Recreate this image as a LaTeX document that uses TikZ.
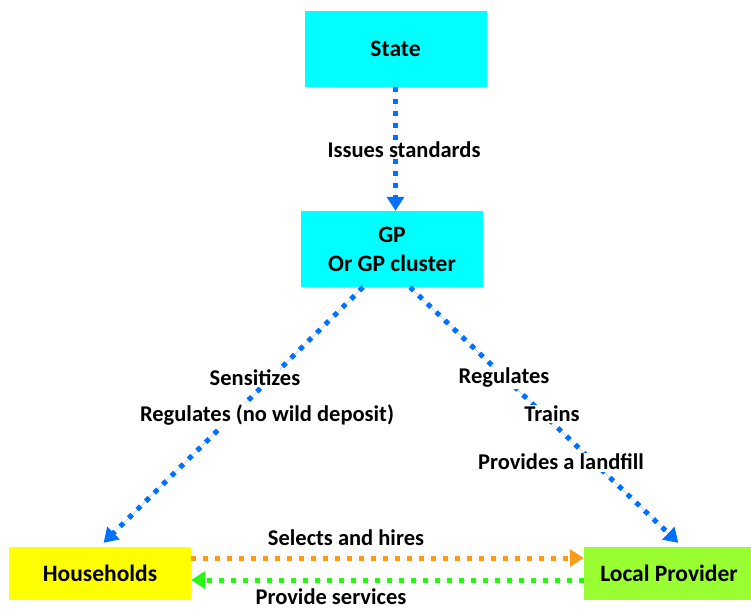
\documentclass[tikz,border=0pt]{standalone}
\usepackage{fontspec}
\setmainfont{Carlito}
\usetikzlibrary{arrows.meta, positioning}
\definecolor{boxcyan}{RGB}{0, 255, 255}
\definecolor{hhyellow}{RGB}{255, 255, 0}
\definecolor{lpgreen}{RGB}{153, 255, 51}
\definecolor{flowblue}{RGB}{0, 112, 255}
\definecolor{hireorange}{RGB}{250, 155, 25}
\definecolor{servgreen}{RGB}{40, 245, 20}

\begin{document}
\begin{tikzpicture}[x=1pt, y=-1pt,
  actor/.style={minimum width=182pt, inner sep=0pt, align=center, font=\fontsize{23.5}{29}\selectfont\bfseries},
  flow/.style={line width=5pt, dash pattern=on 5pt off 7pt, -{Triangle[width=17pt, length=14pt]}},
  lbl/.style={fill=white, inner sep=1.5pt, font=\fontsize{22.5}{26}\selectfont\bfseries}]
  \useasboundingbox (0,0) rectangle (751,610);

  % Actors
  \node[actor, fill=boxcyan, minimum height=76pt] (state) at (395.5, 49) {State};
  \node[actor, fill=boxcyan, minimum height=76pt] (gp) at (392, 249) {GP\\Or GP cluster};
  \node[actor, fill=hhyellow, minimum height=53pt] (hh) at (100, 573) {Households};
  \node[actor, fill=lpgreen, minimum height=53pt, minimum width=170pt] (lp) at (669, 573) {Local Provider};

  % State -> GP
  \draw[flow, draw=flowblue, fill=flowblue] (state.south) -- (state.south |- gp.north);
  \node[lbl] (issues) at (404, 150) {Issues standards};

  % GP -> Households
  \draw[flow, draw=flowblue, fill=flowblue, shorten >=5pt] ([xshift=-29pt]gp.south) -- (hh.north);
  \node[lbl] (sensitizes) at (255, 378) {Sensitizes};
  \node[lbl] (nowild) at (267, 415) {Regulates (no wild deposit)};

  % GP -> Local Provider
  \draw[flow, draw=flowblue, fill=flowblue, shorten >=5pt] ([xshift=18pt]gp.south) -- ([xshift=13pt]lp.north);
  \node[lbl] (regulates) at (504, 378) {Regulates};
  \node[lbl] (trains) at (552, 414) {Trains};
  \node[lbl] (landfill) at (561, 462) {Provides a landfill};

  % Households <-> Local Provider
  \draw[flow, draw=hireorange, fill=hireorange] ([yshift=15pt]hh.east) -- ([yshift=15pt]lp.west);
  \node[lbl] (hires) at (346, 538) {Selects and hires};
  \draw[flow, draw=servgreen, fill=servgreen] ([yshift=-7pt]lp.west) -- ([yshift=-7pt]hh.east);
  \node[lbl] (services) at (331, 597) {Provide services};
\end{tikzpicture}
\end{document}
